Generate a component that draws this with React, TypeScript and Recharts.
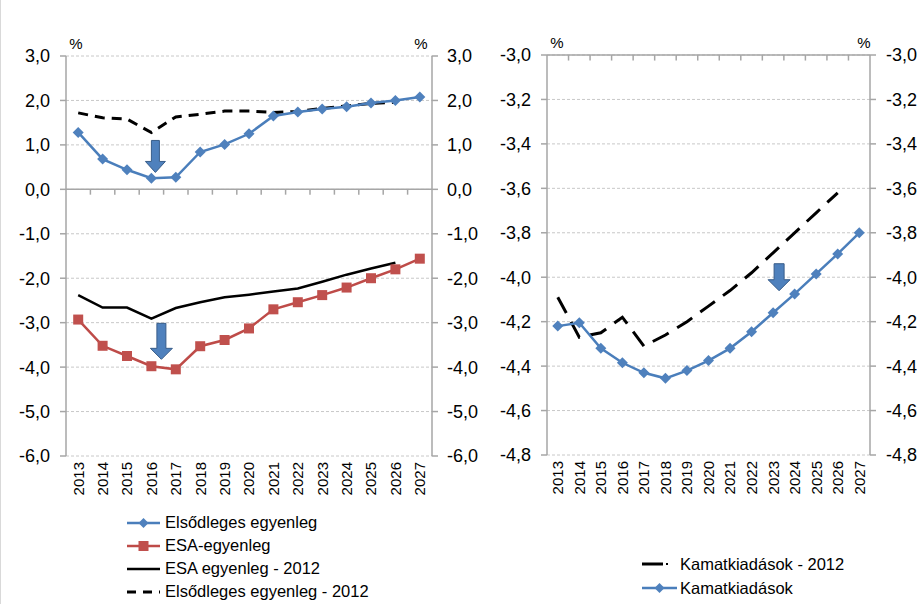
import React from "react";
import {
  CartesianGrid,
  Line,
  LineChart,
  ReferenceDot,
  ReferenceLine,
  XAxis,
  YAxis,
} from "recharts";

// categories
const years = [
  "2013", "2014", "2015", "2016", "2017", "2018", "2019", "2020",
  "2021", "2022", "2023", "2024", "2025", "2026", "2027",
];

// left panel series (%)
const primaryBalance = [1.28, 0.68, 0.44, 0.25, 0.27, 0.84, 1.01, 1.25, 1.65, 1.74, 1.81, 1.86, 1.94, 2.0, 2.08];
const esaBalance = [-2.93, -3.52, -3.75, -3.98, -4.05, -3.53, -3.39, -3.13, -2.7, -2.54, -2.38, -2.21, -2.0, -1.8, -1.56];
const esaBalance2012 = [-2.38, -2.66, -2.66, -2.91, -2.67, -2.54, -2.43, -2.37, -2.3, -2.23, -2.08, -1.92, -1.78, -1.65, null];
const primaryBalance2012 = [1.72, 1.61, 1.58, 1.28, 1.63, 1.69, 1.76, 1.76, 1.73, 1.75, 1.82, 1.88, 1.93, 1.96, null];

// right panel series (%)
const interest = [-4.22, -4.205, -4.32, -4.385, -4.43, -4.455, -4.42, -4.375, -4.32, -4.245, -4.16, -4.075, -3.985, -3.895, -3.8];
const interest2012 = [-4.09, -4.27, -4.25, -4.18, -4.31, -4.26, -4.2, -4.13, -4.06, -3.98, -3.89, -3.8, -3.71, -3.62, null];

// axis ticks
const leftTicks = [-6, -5, -4, -3, -2, -1, 0, 1, 2, 3];
const rightTicks = [-4.8, -4.6, -4.4, -4.2, -4.0, -3.8, -3.6, -3.4, -3.2, -3.0];

// arrow annotations: [year, value]
const leftArrows: [string, number][] = [["2016", 0.74], ["2016", -3.42]];
const rightArrows: [string, number][] = [["2023", -4.0]];

const leftData = years.map((y, i) => ({
  year: y,
  primary: primaryBalance[i],
  esa: esaBalance[i],
  esa2012: esaBalance2012[i],
  primary2012: primaryBalance2012[i],
}));

const rightData = years.map((y, i) => ({
  year: y,
  interest: interest[i],
  interest2012: interest2012[i],
}));

const FONT = "'Liberation Sans', Arial, sans-serif";
const BLUE = "#4A7EBB";
const BLUE_M = "#4F81BD";
const RED = "#BE4B48";
const RED_M = "#C0504D";
const AXIS = "#a6a6a6";

const fmt = (v: number) => v.toFixed(1).replace(".", ",");

const Diamond = (p: any) => {
  const { cx, cy, index } = p;
  if (cx == null || cy == null) return <g key={index} />;
  return (
    <path
      key={index}
      d={`M${cx},${cy - 5.5}L${cx + 5.5},${cy}L${cx},${cy + 5.5}L${cx - 5.5},${cy}Z`}
      fill={BLUE_M}
    />
  );
};

const Square = (p: any) => {
  const { cx, cy, index } = p;
  if (cx == null || cy == null) return <g key={index} />;
  return <rect key={index} x={cx - 5} y={cy - 5} width={10} height={10} fill={RED_M} />;
};

const makeArrow = (dx: number, h: number, w: number, hw: number) => (p: any) => {
  const cx = p.cx + dx;
  const top = p.cy - h / 2;
  const tip = p.cy + h / 2;
  const hy = tip - 11;
  return (
    <path
      d={`M${cx - w / 2},${top}L${cx + w / 2},${top}L${cx + w / 2},${hy}L${cx + hw / 2},${hy}L${cx},${tip}L${cx - hw / 2},${hy}L${cx - w / 2},${hy}Z`}
      fill={BLUE_M}
      stroke="#385D8A"
      strokeWidth={1}
    />
  );
};

const YearTick = (p: any) => {
  const { x, y, payload } = p;
  return (
    <text
      transform={`translate(${x},${y}) rotate(-90)`}
      textAnchor="end"
      dy="0.36em"
      fontSize={15}
      fill="#000"
      fontFamily={FONT}
    >
      {payload.value}
    </text>
  );
};

// "%" unit label; left axis: just right of the axis line, right axis: just left of it
const pctLabel = (side: "l" | "r", dx: number) => (p: any) => {
  const vb = p.viewBox;
  const x = side === "l" ? vb.x + vb.width + dx : vb.x + dx;
  return (
    <text x={x} y={vb.y - 7} fontSize={15} fill="#000" fontFamily={FONT} textAnchor="middle">
      %
    </text>
  );
};

const LegendRow = ({ icon, text }: { icon: React.ReactNode; text: string }) => (
  <div style={{ display: "flex", alignItems: "center", height: 23 }}>
    <svg width={36} height={12} style={{ marginRight: 3 }}>
      {icon}
    </svg>
    <span>{text}</span>
  </div>
);

const yTick = { fill: "#000", fontSize: 18, fontFamily: FONT };

export default function App() {
  return (
    <div
      style={{
        position: "absolute",
        left: 0,
        top: 0,
        width: 917,
        height: 604,
        background: "#fff",
        overflow: "hidden",
        fontFamily: FONT,
      }}
    >
      <div style={{ position: "absolute", left: 0, top: 0, width: 1, height: 604, background: "#d9d9d9" }} />
      <div style={{ position: "absolute", left: 0, top: 0 }}>
        <LineChart width={480} height={604} data={leftData} margin={{ top: 56, right: 0, left: 0, bottom: 0 }}>
          <CartesianGrid vertical={false} stroke="#c8c8c8" strokeDasharray="3 2" />
          <XAxis
            dataKey="year"
            scale="band"
            height={148}
            axisLine={false}
            tickLine={false}
            tickSize={0}
            tickMargin={6}
            interval={0}
            tick={<YearTick />}
          />
          <YAxis
            domain={[-6, 3]}
            ticks={leftTicks}
            width={66}
            tickFormatter={fmt}
            tick={yTick}
            tickSize={6}
            tickMargin={10}
            axisLine={{ stroke: AXIS, strokeWidth: 1.5 }}
            tickLine={{ stroke: AXIS, strokeWidth: 1.5 }}
            label={pctLabel("l", 10)}
          />
          <YAxis
            yAxisId="r"
            orientation="right"
            domain={[-6, 3]}
            ticks={leftTicks}
            width={48}
            tickFormatter={fmt}
            tick={yTick}
            tickSize={6}
            tickMargin={9}
            axisLine={{ stroke: AXIS, strokeWidth: 1.5 }}
            tickLine={{ stroke: AXIS, strokeWidth: 1.5 }}
            label={pctLabel("r", -11)}
          />
          <ReferenceLine y={0} stroke={AXIS} strokeWidth={1.5} />
          {years.slice(1).map((yr) => (
            <ReferenceLine
              key={"t" + yr}
              segment={[{ x: yr, y: 0 }, { x: yr, y: -0.12 }]}
              position="start"
              stroke={AXIS}
              strokeWidth={1.5}
            />
          ))}
          {/* invisible series so the right axis gets drawn */}
          <Line yAxisId="r" dataKey="primary" stroke="none" dot={false} activeDot={false} legendType="none" isAnimationActive={false} />
          <Line dataKey="primary2012" stroke="#000" strokeWidth={3} strokeDasharray="10 7" dot={false} isAnimationActive={false} />
          <Line dataKey="esa2012" stroke="#000" strokeWidth={2.5} dot={false} isAnimationActive={false} />
          <Line dataKey="primary" stroke={BLUE} strokeWidth={2.5} dot={Diamond} isAnimationActive={false} />
          <Line dataKey="esa" stroke={RED} strokeWidth={2.5} dot={Square} isAnimationActive={false} />
          {leftArrows.map(([yr, v], i) => (
            <ReferenceDot
              key={"a" + i}
              x={yr}
              y={v}
              shape={i === 0 ? makeArrow(4, 32, 8, 20) : makeArrow(10, 36, 9, 22)}
            />
          ))}
        </LineChart>
      </div>

      <div style={{ position: "absolute", left: 480, top: 0 }}>
        <LineChart width={437} height={604} data={rightData} margin={{ top: 55, right: 0, left: 0, bottom: 0 }}>
          <CartesianGrid vertical={false} stroke="#c8c8c8" strokeDasharray="3 2" />
          <XAxis
            dataKey="year"
            scale="band"
            height={149}
            axisLine={false}
            tickLine={false}
            tickSize={0}
            tickMargin={6}
            interval={0}
            tick={<YearTick />}
          />
          <YAxis
            domain={[-4.8, -3.0]}
            ticks={rightTicks}
            width={67}
            tickFormatter={fmt}
            tick={yTick}
            tickSize={6}
            tickMargin={10}
            axisLine={{ stroke: AXIS, strokeWidth: 1.5 }}
            tickLine={{ stroke: AXIS, strokeWidth: 1.5 }}
            label={pctLabel("l", 10)}
          />
          <YAxis
            yAxisId="r"
            orientation="right"
            domain={[-4.8, -3.0]}
            ticks={rightTicks}
            width={47}
            tickFormatter={fmt}
            tick={yTick}
            tickSize={6}
            tickMargin={10}
            axisLine={{ stroke: AXIS, strokeWidth: 1.5 }}
            tickLine={{ stroke: AXIS, strokeWidth: 1.5 }}
            label={pctLabel("r", -6)}
          />
          <ReferenceLine y={-3.0} stroke={AXIS} strokeWidth={1.5} />
          {years.slice(1).map((yr) => (
            <ReferenceLine
              key={"t" + yr}
              segment={[{ x: yr, y: -3.0 }, { x: yr, y: -3.025 }]}
              position="start"
              stroke={AXIS}
              strokeWidth={1.5}
            />
          ))}
          <Line yAxisId="r" dataKey="interest" stroke="none" dot={false} activeDot={false} legendType="none" isAnimationActive={false} />
          <Line dataKey="interest2012" stroke="#000" strokeWidth={3} strokeDasharray="18 10" dot={false} isAnimationActive={false} />
          <Line dataKey="interest" stroke={BLUE} strokeWidth={2.5} dot={Diamond} isAnimationActive={false} />
          {rightArrows.map(([yr, v], i) => (
            <ReferenceDot key={"a" + i} x={yr} y={v} shape={makeArrow(6, 27, 10, 22)} />
          ))}
        </LineChart>
      </div>

      <div style={{ position: "absolute", left: 126, top: 511, fontSize: 16.5, color: "#000", lineHeight: "23px" }}>
        <LegendRow
          icon={<g><line x1={1} y1={6} x2={34} y2={6} stroke={BLUE} strokeWidth={2.5} /><path d="M17.5,1L22.5,6L17.5,11L12.5,6Z" fill={BLUE_M} /></g>}
          text="Elsődleges egyenleg"
        />
        <LegendRow
          icon={<g><line x1={1} y1={6} x2={34} y2={6} stroke={RED} strokeWidth={2.5} /><rect x={12.5} y={1} width={10} height={10} fill={RED_M} /></g>}
          text="ESA-egyenleg"
        />
        <LegendRow icon={<line x1={1} y1={6} x2={34} y2={6} stroke="#000" strokeWidth={2.5} />} text="ESA egyenleg  - 2012" />
        <LegendRow
          icon={<line x1={1} y1={6} x2={34} y2={6} stroke="#000" strokeWidth={3} strokeDasharray="9 7" />}
          text="Elsődleges egyenleg  - 2012"
        />
      </div>

      <div style={{ position: "absolute", left: 641, top: 552, fontSize: 16.5, color: "#000", lineHeight: "23px" }}>
        <div style={{ display: "flex", alignItems: "center", height: 24 }}>
          <svg width={39} height={12}>
            <line x1={1} y1={6} x2={22} y2={6} stroke="#000" strokeWidth={3} />
            <rect x={25} y={5} width={2} height={2} fill="#000" />
          </svg>
          <span>Kamatkiadások - 2012</span>
        </div>
        <div style={{ display: "flex", alignItems: "center", height: 24 }}>
          <svg width={39} height={12}>
            <line x1={1} y1={6} x2={36} y2={6} stroke={BLUE} strokeWidth={2.5} />
            <path d="M18.5,1L23.5,6L18.5,11L13.5,6Z" fill={BLUE_M} />
          </svg>
          <span>Kamatkiadások</span>
        </div>
      </div>
    </div>
  );
}
